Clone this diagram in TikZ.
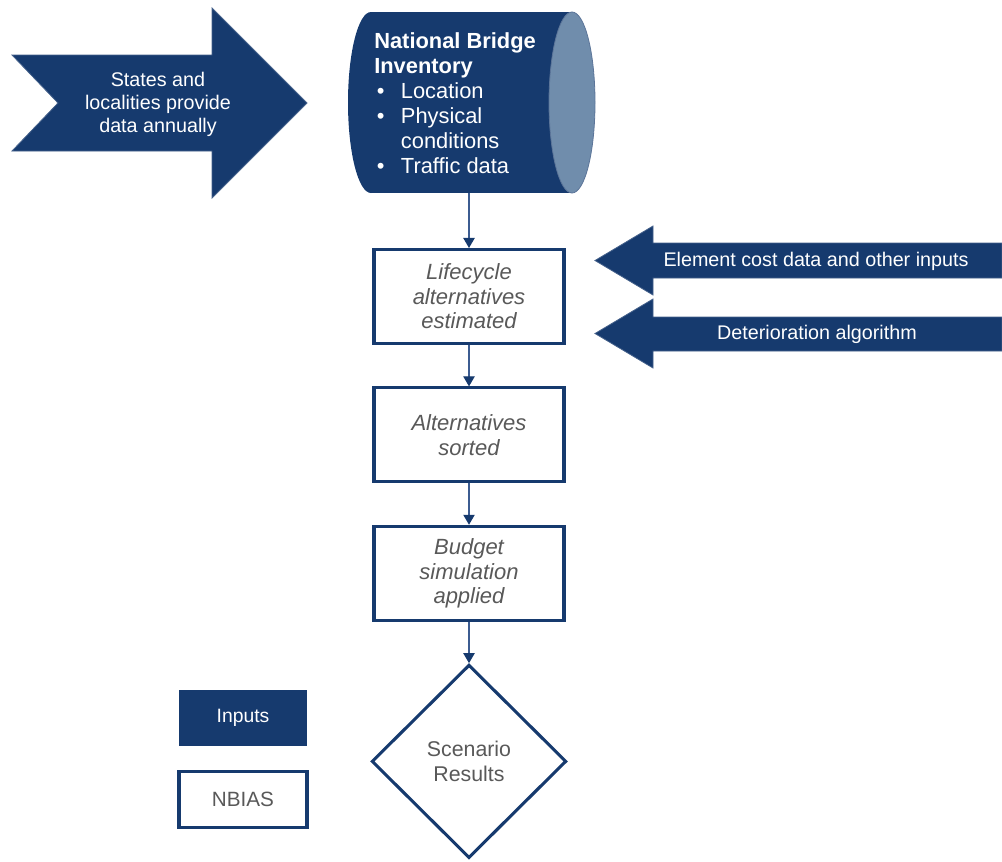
\documentclass[tikz,border=0pt]{standalone}
\usepackage{fontspec}
\setmainfont{Liberation Sans}
\usepackage{xcolor}
\usetikzlibrary{arrows.meta,positioning,shapes.geometric}

\definecolor{navyblue}{RGB}{22,58,110}
\definecolor{canend}{RGB}{112,141,172}
\definecolor{linkblue}{RGB}{60,92,145}
\definecolor{stepgray}{RGB}{89,89,89}

\newcommand{\nbibullet}{\makebox[20pt][l]{\hspace{2pt}\textbullet}}

\begin{document}
\begin{tikzpicture}[
  x=0.75pt, y=-0.75pt,
  node distance=31pt,
  inputshape/.style={fill=navyblue, draw=navyblue!80!white, line width=0.6pt},
  inputtext/.style={text=white, align=center, inner sep=0pt,
    font=\fontsize{14.8}{17.25}\selectfont},
  stepbox/.style={draw=navyblue, line width=2.3pt, fill=white, align=center,
    minimum width=142.5pt, minimum height=70.5pt, inner sep=0pt, text=stepgray,
    font=\fontsize{16.5}{18.4}\selectfont\itshape},
  result/.style={diamond, draw=navyblue, line width=2.3pt, fill=white, align=center,
    minimum width=146pt, minimum height=145pt, inner sep=0pt, text=stepgray,
    font=\fontsize{16}{18.4}\selectfont},
  legendbox/.style={line width=2.3pt, minimum width=96pt, minimum height=41.5pt,
    inner sep=0pt, font=\fontsize{14.5}{17}\selectfont},
  line/.style={-{Triangle[length=7.5pt,width=8.5pt,color=navyblue]},
    draw=linkblue, line width=0.9pt}
]
\useasboundingbox (0,0) rectangle (1002,861);

% input from the states
\fill[inputshape] (12,55) -- (212,55) -- (212,8) -- (307,103) -- (212,198)
  -- (212,151) -- (12,151) -- (58,103) -- cycle;
\node[inputtext] (states) at (158,104) {States and\\localities provide\\data annually};

% inventory drum
\fill[navyblue] (371,12) rectangle (572,193);
\fill[navyblue] (371,102.5) ellipse (23 and 90.5);
\filldraw[fill=canend, draw=navyblue!70!white, line width=0.6pt] (572,102.5) ellipse (23 and 90.5);
\node[text=white, align=left, anchor=west, inner sep=0pt,
  font=\fontsize{16.4}{18.75}\selectfont] (nbi) at (374,103) {
  \textbf{National Bridge}\\
  \textbf{Inventory}\\
  \nbibullet Location\\
  \nbibullet Physical\\
  \hspace*{20pt}conditions\\
  \nbibullet Traffic data
};
\coordinate (nbi-bottom) at (469,193);

% NBIAS steps
\node[stepbox] (lifecycle) at (469,296.5) {Lifecycle\\alternatives\\estimated};
\node[stepbox, below=of lifecycle] (sorted) {Alternatives\\sorted};
\node[stepbox, below=of sorted] (budget) {Budget\\simulation\\applied};
\node[result, below=of budget] (scenario) {Scenario\\Results};

\draw[line] (nbi-bottom) -- (lifecycle);
\draw[line] (lifecycle) -- (sorted);
\draw[line] (sorted) -- (budget);
\draw[line] (budget) -- (scenario);

% inputs from the right
\fill[inputshape] (1002,243) -- (653,243) -- (653,226) -- (595,260.5) -- (653,295)
  -- (653,278) -- (1002,278) -- cycle;
\node[inputtext] (costdata) at (816,261) {Element cost data and other inputs};
\fill[inputshape] (1002,317) -- (653,317) -- (653,299) -- (595,333.5) -- (653,368)
  -- (653,351) -- (1002,351) -- cycle;
\node[inputtext] (deterioration) at (817,334) {Deterioration algorithm};

% legend
\node[legendbox, fill=navyblue, text=white] (legend-inputs) at (243,718) {Inputs};
\node[legendbox, draw=navyblue, text=stepgray, font=\fontsize{15.5}{17}\selectfont]
  (legend-nbias) at (243,799.5) {NBIAS};
\end{tikzpicture}
\end{document}
